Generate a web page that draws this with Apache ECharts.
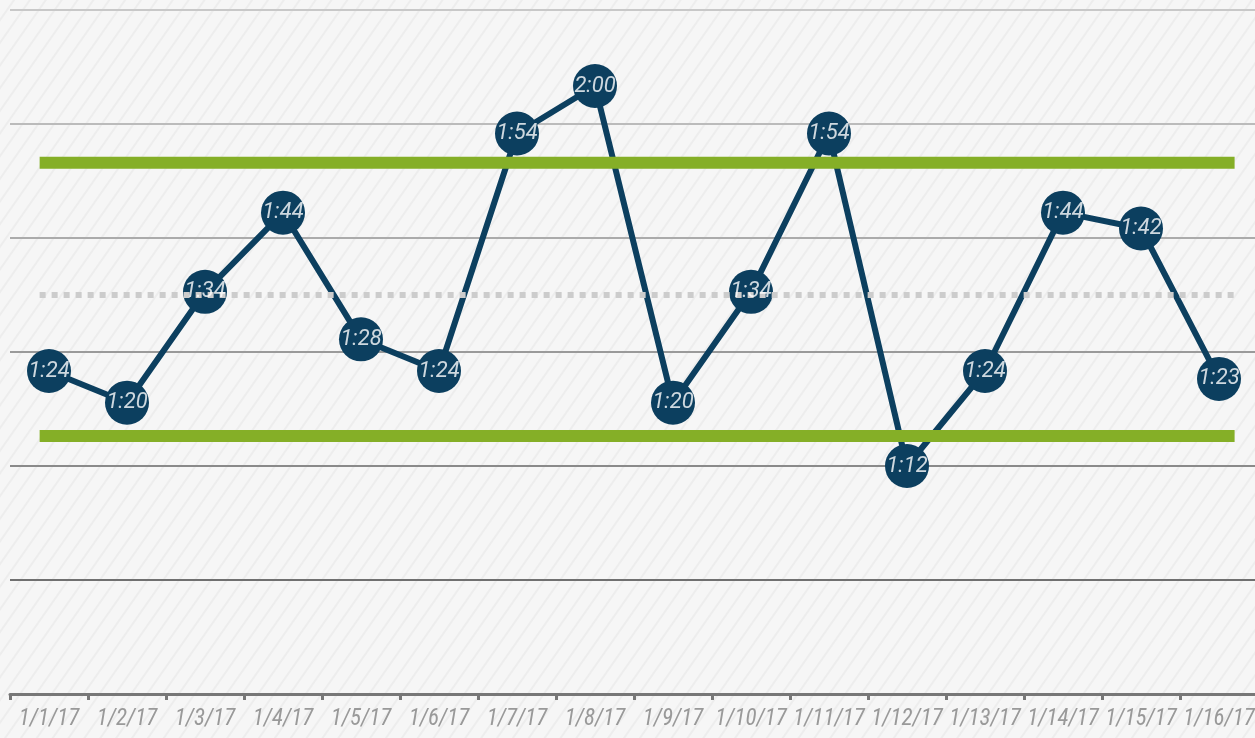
<!DOCTYPE html>
<html>
<head>
<meta charset="utf-8">
<script src="https://cdn.jsdelivr.net/npm/echarts@6/dist/echarts.min.js"></script>
<style>
  html, body { margin: 0; padding: 0; }
  body {
    width: 1255px; height: 738px; overflow: hidden;
    background-color: #f5f5f5;
    background-image: repeating-linear-gradient(125deg, #f6f6f6 0px, #f6f6f6 10px, #ededed 11px, #ededed 12px, #f6f6f6 13px);
  }
  #chart { width: 1255px; height: 738px; }
</style>
</head>
<body>
<div id="chart"></div>
<script>
// days on the x axis
const days = ['1/1/17', '1/2/17', '1/3/17', '1/4/17', '1/5/17', '1/6/17', '1/7/17', '1/8/17',
  '1/9/17', '1/10/17', '1/11/17', '1/12/17', '1/13/17', '1/14/17', '1/15/17', '1/16/17'];
// duration per day, in minutes (1:24 -> 84)
const minutes = [84, 80, 94, 104, 88, 84, 114, 120, 80, 94, 114, 72, 84, 104, 102, 83];
// control lines (minutes)
const upperLimit = 110.3;
const lowerLimit = 75.8;
const average = 93.6;
// extent of the control lines, in category units
const limitFrom = -0.12;
const limitTo = 15.2;
// y axis range (minutes)
const yMin = 43.2;
const yMax = 129.6;
const yStep = 14.4;

const navy = '#0c3f5f';
const green = '#85af27';

function fmt(v) {
  const m = v % 60;
  return Math.floor(v / 60) + ':' + (m < 10 ? '0' + m : m);
}

const chart = echarts.init(document.getElementById('chart'), null, { renderer: 'canvas' });

const hline = (v) => [[limitFrom, v], [limitTo, v]];

const options = {
  backgroundColor: 'transparent',
  animation: false,
  grid: { left: 10, top: 10, width: 1248, bottom: 44, outerBoundsMode: 'none' },
  xAxis: [{
    type: 'category',
    data: days,
    boundaryGap: true,
    axisLine: { show: true, lineStyle: { color: '#777', width: 3 } },
    axisTick: { show: true, length: 6, lineStyle: { color: '#777', width: 3 } },
    axisLabel: {
      interval: 0,
      margin: 14,
      color: '#999',
      fontSize: 23,
      fontStyle: 'italic',
      fontFamily: "'Liberation Sans Narrow', 'Roboto Condensed', Roboto, sans-serif"
    },
    splitLine: { show: false }
  }, {
    type: 'value',
    min: -0.5,
    max: 15.5,
    show: false
  }],
  yAxis: {
    type: 'value',
    min: yMin,
    max: yMax,
    interval: yStep,
    axisLine: { show: false },
    axisTick: { show: false },
    axisLabel: { show: false },
    splitLine: {
      show: true,
      lineStyle: { width: 2, color: ['#777', '#707070', '#8a8a8a', '#9a9a9a', '#ababab', '#bbbbbb', '#c8c8c8'] }
    }
  },
  series: [{
    name: 'time',
    type: 'line',
    data: minutes,
    z: 2,
    symbol: 'circle',
    symbolSize: 44,
    lineStyle: { color: navy, width: 6 },
    itemStyle: { color: navy },
    label: { show: false }
  }, {
    name: 'upper',
    type: 'line',
    xAxisIndex: 1,
    data: hline(upperLimit),
    z: 3,
    symbol: 'none',
    lineStyle: { color: green, width: 12, cap: 'butt' }
  }, {
    name: 'lower',
    type: 'line',
    xAxisIndex: 1,
    data: hline(lowerLimit),
    z: 3,
    symbol: 'none',
    lineStyle: { color: green, width: 12, cap: 'butt' }
  }, {
    name: 'average',
    type: 'line',
    xAxisIndex: 1,
    data: hline(average),
    z: 3,
    symbol: 'none',
    lineStyle: { color: '#cccccc', width: 6, type: [6, 6], cap: 'butt' }
  }, {
    name: 'labels',
    type: 'scatter',
    data: minutes,
    z: 4,
    symbolSize: 2,
    itemStyle: { color: 'transparent' },
    label: {
      show: true,
      position: 'inside',
      formatter: (p) => fmt(p.value),
      color: '#fff',
      fontSize: 22,
      fontStyle: 'italic',
      fontFamily: 'Roboto, sans-serif'
    }
  }]
};

chart.setOption(options);
</script>
</body>
</html>
